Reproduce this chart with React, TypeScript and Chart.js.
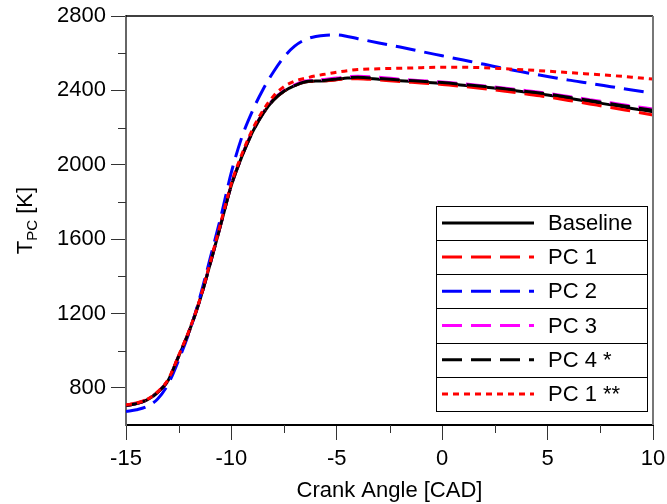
import { useEffect, useRef } from "react";
import { Chart, registerables } from "chart.js";

Chart.register(...registerables);

const FONT = "'Liberation Sans', Arial, sans-serif";

const crankAngle = [
  -15, -14.5, -14, -13.5, -13, -12.5, -12, -11.5, -11, -10.5, -10, -9.5, -9, -8.5, -8, -7.5, -7, -6.5, -6,
  -5.5, -5, -4.5, -4, -3, -2, -1, 0, 1, 2, 3, 4, 5, 6, 7, 8, 9, 10,
];

const baseline = [
  705, 715, 735, 775, 840, 970, 1105, 1270, 1470, 1680, 1890, 2045, 2175, 2275, 2348, 2395, 2425, 2445, 2450,
  2452, 2458, 2466, 2466, 2460, 2452, 2445, 2438, 2428, 2418, 2405, 2390, 2375, 2358, 2340, 2322, 2303, 2285,
];

const pc1 = [
  708, 718, 738, 778, 842, 972, 1108, 1272, 1472, 1684, 1893, 2048, 2178, 2278, 2350, 2397, 2427, 2446, 2450,
  2452, 2457, 2463, 2463, 2456, 2447, 2440, 2432, 2421, 2409, 2395, 2380, 2365, 2346, 2327, 2308, 2288, 2268,
];

const pc2 = [
  673, 682, 700, 740, 820, 950, 1100, 1285, 1500, 1720, 1960, 2150, 2290, 2405, 2500, 2580, 2638, 2673, 2690,
  2697, 2698, 2690, 2678, 2655, 2633, 2609, 2586, 2563, 2540, 2516, 2495, 2475, 2455, 2438, 2420, 2402, 2384,
];

const pc3 = [
  705, 715, 735, 775, 840, 970, 1105, 1270, 1470, 1682, 1892, 2047, 2178, 2278, 2352, 2400, 2430, 2450, 2456,
  2460, 2466, 2474, 2476, 2470, 2460, 2452, 2445, 2435, 2424, 2412, 2398, 2384, 2367, 2350, 2333, 2316, 2300,
];

const pc4 = [
  705, 715, 735, 775, 840, 970, 1105, 1270, 1470, 1680, 1890, 2045, 2175, 2276, 2349, 2396, 2426, 2446, 2451,
  2454, 2461, 2469, 2470, 2464, 2456, 2449, 2442, 2432, 2421, 2408, 2394, 2380, 2363, 2345, 2328, 2310, 2293,
];

const pc1Star = [
  708, 718, 738, 778, 845, 975, 1110, 1275, 1478, 1690, 1900, 2058, 2190, 2292, 2370, 2420, 2450, 2465, 2478,
  2488, 2498, 2506, 2512, 2516, 2519, 2522, 2524, 2524, 2522, 2516, 2510, 2503, 2496, 2488, 2480, 2471, 2461,
];

const seriesLabels = ["Baseline", "PC 1", "PC 2", "PC 3", "PC 4 *", "PC 1 **"];
const seriesValues = [baseline, pc1, pc2, pc3, pc4, pc1Star];
const seriesColors = ["#000000", "#ff0000", "#0000ff", "#ff00ff", "#000000", "#ff0000"];
const seriesDashes = [[], [20, 9], [20, 9], [20, 9], [20, 9], [6, 5]];
const seriesOrder = [6, 5, 4, 3, 2, 1];

const yMajorTicks = [800, 1200, 1600, 2000, 2400, 2800];
const yMinorTicks = [1000, 1400, 1800, 2200, 2600];
const xMajorTicks = [-15, -10, -5, 0, 5, 10];
const xMinorTicks = [-12.5, -7.5, -2.5, 2.5, 7.5];

const framePlugin = {
  id: "framePlugin",
  afterDraw(chart: any) {
    const { ctx, chartArea: a, scales } = chart;
    const xs = scales.x;
    const ys = scales.y;
    ctx.save();
    // minor ticks
    ctx.strokeStyle = "#333";
    ctx.lineWidth = 1;
    ctx.beginPath();
    yMinorTicks.forEach((v) => {
      const py = Math.round(ys.getPixelForValue(v)) + 0.5;
      ctx.moveTo(a.left - 8, py);
      ctx.lineTo(a.left, py);
    });
    xMinorTicks.forEach((v) => {
      const px = Math.round(xs.getPixelForValue(v)) + 0.5;
      ctx.moveTo(px, a.bottom);
      ctx.lineTo(px, a.bottom + 8);
    });
    ctx.stroke();
    // top and right frame
    ctx.strokeStyle = "#000";
    ctx.lineWidth = 1.5;
    ctx.beginPath();
    ctx.moveTo(a.left, a.top);
    ctx.lineTo(a.right, a.top);
    ctx.stroke();
    ctx.strokeStyle = "#777";
    ctx.lineWidth = 2;
    ctx.beginPath();
    ctx.moveTo(a.right, a.top);
    ctx.lineTo(a.right, a.bottom);
    ctx.stroke();

    // y-axis title with subscript
    const cy = (a.top + a.bottom) / 2;
    ctx.translate(32, cy);
    ctx.rotate(-Math.PI / 2);
    ctx.fillStyle = "#000";
    ctx.textBaseline = "alphabetic";
    ctx.textAlign = "left";
    const big = `22px ${FONT}`;
    const small = `15px ${FONT}`;
    ctx.font = big;
    const wT = ctx.measureText("T").width;
    const wK = ctx.measureText(" [K]").width;
    ctx.font = small;
    const wPC = ctx.measureText("PC").width;
    let x0 = -(wT + wPC + wK) / 2;
    ctx.font = big;
    ctx.fillText("T", x0, 0);
    x0 += wT;
    ctx.font = small;
    ctx.fillText("PC", x0, 5);
    x0 += wPC;
    ctx.font = big;
    ctx.fillText(" [K]", x0, 0);
    ctx.restore();

    // legend table
    ctx.save();
    const rowH = 34.2;
    const n = chart.data.datasets.length;
    const boxR = a.right - 6;
    const boxL = boxR - 211;
    const boxB = a.bottom - 14;
    const boxT = boxB - rowH * n;
    ctx.fillStyle = "#fff";
    ctx.fillRect(boxL, boxT, boxR - boxL, boxB - boxT);
    ctx.strokeStyle = "#000";
    ctx.lineWidth = 1;
    ctx.strokeRect(Math.round(boxL) + 0.5, Math.round(boxT) + 0.5, Math.round(boxR - boxL), Math.round(boxB - boxT));
    for (let i = 1; i < n; i++) {
      const yy = Math.round(boxT + rowH * i) + 0.5;
      ctx.beginPath();
      ctx.moveTo(boxL, yy);
      ctx.lineTo(boxR, yy);
      ctx.stroke();
    }
    chart.data.datasets.forEach((ds: any, i: number) => {
      const yc = boxT + rowH * (i + 0.5);
      ctx.save();
      ctx.strokeStyle = ds.borderColor;
      ctx.lineWidth = ds.borderWidth;
      ctx.setLineDash(ds.borderDash || []);
      ctx.beginPath();
      ctx.moveTo(boxL + 6, yc);
      ctx.lineTo(boxL + 98, yc);
      ctx.stroke();
      ctx.restore();
      ctx.fillStyle = "#000";
      ctx.font = `22px ${FONT}`;
      ctx.textBaseline = "middle";
      ctx.textAlign = "left";
      ctx.fillText(ds.label, boxL + 112, yc + 1);
    });
    ctx.restore();
  },
};

export default function App() {
  const ref = useRef<HTMLCanvasElement | null>(null);
  useEffect(() => {
    if (!ref.current) return;
    const chart = new Chart(ref.current, {
      type: "line",
      data: {
        labels: crankAngle,
        datasets: seriesLabels.map((label, i) => ({
          label,
          data: crankAngle.map((x, j) => ({ x, y: seriesValues[i][j] })),
          borderColor: seriesColors[i],
          backgroundColor: seriesColors[i],
          borderWidth: 3,
          borderDash: seriesDashes[i],
          pointRadius: 0,
          fill: false,
          cubicInterpolationMode: "monotone" as const,
          order: seriesOrder[i],
        })),
      },
      options: {
        animation: false,
        responsive: false,
        maintainAspectRatio: false,
        layout: { padding: { top: 16, right: 14, left: 0, bottom: 0 } },
        plugins: {
          legend: { display: false },
          tooltip: { enabled: false },
        },
        scales: {
          x: {
            type: "linear",
            min: -15,
            max: 10,
            afterBuildTicks: (s: any) => {
              s.ticks = xMajorTicks.map((v) => ({ value: v }));
            },
            afterFit: (s: any) => {
              s.height = 79;
              s.paddingLeft = 0;
              s.paddingRight = 0;
            },
            grid: { drawOnChartArea: false, drawTicks: true, tickLength: 15, color: "#333" },
            border: { display: true, color: "#000", width: 2 },
            ticks: {
              color: "#000",
              font: { family: FONT, size: 22 },
              padding: 6,
              maxRotation: 0,
              autoSkip: false,
              callback: (v: any) => String(v),
            },
            title: {
              display: true,
              text: "Crank Angle [CAD]",
              color: "#000",
              font: { family: FONT, size: 22 },
              padding: { top: 0, bottom: 0 },
            },
          },
          y: {
            type: "linear",
            min: 600,
            max: 2800,
            afterBuildTicks: (s: any) => {
              s.ticks = yMajorTicks.map((v) => ({ value: v }));
            },
            afterFit: (s: any) => {
              s.width = 126;
              s.paddingTop = 0;
              s.paddingBottom = 0;
            },
            grid: { drawOnChartArea: false, drawTicks: true, tickLength: 15, color: "#333" },
            border: { display: true, color: "#666", width: 2 },
            ticks: {
              color: "#000",
              font: { family: FONT, size: 22 },
              padding: 5,
              autoSkip: false,
              callback: (v: any) => String(v),
            },
          },
        },
      },
      plugins: [framePlugin],
    });
    return () => chart.destroy();
  }, []);
  return (
    <div style={{ position: "absolute", left: 0, top: 0, width: 667, height: 504, background: "#fff" }}>
      <canvas ref={ref} width={667} height={504} style={{ width: 667, height: 504 }} />
    </div>
  );
}
